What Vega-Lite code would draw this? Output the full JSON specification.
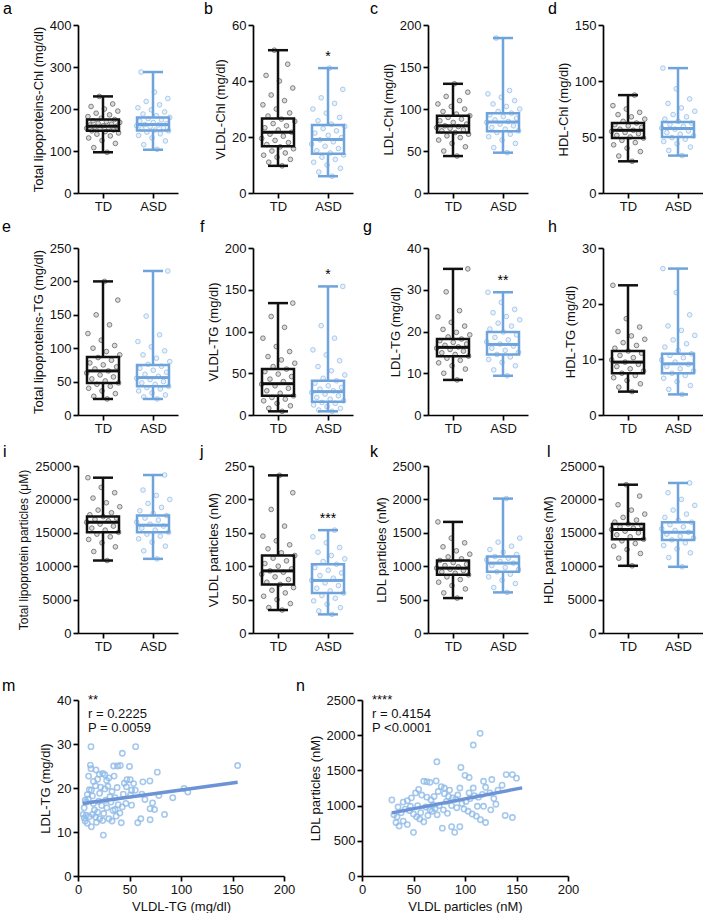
{
"$schema":"https://vega.github.io/schema/vega-lite/v6.json",
"padding":{"left":2,"top":1,"right":0,"bottom":0},
"config":{"view":{"stroke":null},"font":"Liberation Sans",
"axis":{"domainColor":"#000","domainWidth":1.7,"tickColor":"#000","tickWidth":1.7,"tickSize":5,"labelFontSize":13,"labelColor":"#111","titleFontSize":13,"titleFontWeight":"normal","titleColor":"#111","grid":false,"labelPadding":2,"titlePadding":4,"labelFlush":false,"labelOverlap":false}},
"datasets":{
"box":[
{"p":"a","g":"TD","lo":97,"q1":148,"md":159,"q3":175,"hi":230,"s":""},
{"p":"a","g":"ASD","lo":103,"q1":149,"md":163,"q3":180,"hi":288,"s":""},
{"p":"b","g":"TD","lo":9.7,"q1":16.7,"md":21.7,"q3":26.6,"hi":51,"s":""},
{"p":"b","g":"ASD","lo":6,"q1":14,"md":19.1,"q3":24.3,"hi":44.6,"s":"*"},
{"p":"c","g":"TD","lo":44,"q1":72,"md":80,"q3":92,"hi":130,"s":""},
{"p":"c","g":"ASD","lo":48,"q1":73.5,"md":84.5,"q3":95,"hi":184.5,"s":""},
{"p":"d","g":"TD","lo":28.3,"q1":49.2,"md":56,"q3":62.6,"hi":87.4,"s":""},
{"p":"d","g":"ASD","lo":33.4,"q1":50,"md":57.6,"q3":63.5,"hi":111.5,"s":""},
{"p":"e","g":"TD","lo":24,"q1":48,"md":66,"q3":86.8,"hi":200,"s":""},
{"p":"e","g":"ASD","lo":24,"q1":43,"md":56,"q3":74.8,"hi":215.6,"s":""},
{"p":"f","g":"TD","lo":4.4,"q1":23,"md":37.5,"q3":55,"hi":134,"s":""},
{"p":"f","g":"ASD","lo":4.4,"q1":16,"md":28,"q3":41,"hi":154,"s":"*"},
{"p":"g","g":"TD","lo":8.4,"q1":14.1,"md":16.2,"q3":18.2,"hi":35,"s":""},
{"p":"g","g":"ASD","lo":9.4,"q1":14.5,"md":16.9,"q3":19.9,"hi":29.4,"s":"**"},
{"p":"h","g":"TD","lo":4.2,"q1":7.5,"md":9.5,"q3":11.5,"hi":23.3,"s":""},
{"p":"h","g":"ASD","lo":3.7,"q1":7.5,"md":9.2,"q3":11,"hi":26.3,"s":""},
{"p":"i","g":"TD","lo":10850,"q1":15080,"md":16580,"q3":17430,"hi":23250,"s":""},
{"p":"i","g":"ASD","lo":11100,"q1":15080,"md":16140,"q3":17580,"hi":23650,"s":""},
{"p":"j","g":"TD","lo":34.4,"q1":72.7,"md":93,"q3":116,"hi":236,"s":""},
{"p":"j","g":"ASD","lo":27.9,"q1":59.8,"md":78.7,"q3":103,"hi":154,"s":"***"},
{"p":"k","g":"TD","lo":523,"q1":871,"md":971,"q3":1086,"hi":1663,"s":""},
{"p":"k","g":"ASD","lo":608,"q1":916,"md":1046,"q3":1145,"hi":2012,"s":""},
{"p":"l","g":"TD","lo":10060,"q1":14040,"md":15490,"q3":16330,"hi":22200,"s":""},
{"p":"l","g":"ASD","lo":9910,"q1":13940,"md":15080,"q3":16580,"hi":22460,"s":""}
],
"pts":[
{"p":"a","g":"TD","v":97},{"p":"a","g":"TD","v":108},{"p":"a","g":"TD","v":118},{"p":"a","g":"TD","v":125},{"p":"a","g":"TD","v":131},{"p":"a","g":"TD","v":136},{"p":"a","g":"TD","v":140},{"p":"a","g":"TD","v":143},{"p":"a","g":"TD","v":146},{"p":"a","g":"TD","v":148},{"p":"a","g":"TD","v":150},{"p":"a","g":"TD","v":152},{"p":"a","g":"TD","v":154},{"p":"a","g":"TD","v":156},{"p":"a","g":"TD","v":157},{"p":"a","g":"TD","v":159},{"p":"a","g":"TD","v":160},{"p":"a","g":"TD","v":162},{"p":"a","g":"TD","v":164},{"p":"a","g":"TD","v":166},{"p":"a","g":"TD","v":168},{"p":"a","g":"TD","v":170},{"p":"a","g":"TD","v":172},{"p":"a","g":"TD","v":175},{"p":"a","g":"TD","v":178},{"p":"a","g":"TD","v":182},{"p":"a","g":"TD","v":186},{"p":"a","g":"TD","v":190},{"p":"a","g":"TD","v":195},{"p":"a","g":"TD","v":200},{"p":"a","g":"TD","v":206},{"p":"a","g":"TD","v":212},{"p":"a","g":"TD","v":230},
{"p":"a","g":"ASD","v":104},{"p":"a","g":"ASD","v":115},{"p":"a","g":"ASD","v":124},{"p":"a","g":"ASD","v":131},{"p":"a","g":"ASD","v":137},{"p":"a","g":"ASD","v":141},{"p":"a","g":"ASD","v":145},{"p":"a","g":"ASD","v":148},{"p":"a","g":"ASD","v":150},{"p":"a","g":"ASD","v":153},{"p":"a","g":"ASD","v":155},{"p":"a","g":"ASD","v":158},{"p":"a","g":"ASD","v":160},{"p":"a","g":"ASD","v":162},{"p":"a","g":"ASD","v":163},{"p":"a","g":"ASD","v":165},{"p":"a","g":"ASD","v":168},{"p":"a","g":"ASD","v":171},{"p":"a","g":"ASD","v":174},{"p":"a","g":"ASD","v":177},{"p":"a","g":"ASD","v":180},{"p":"a","g":"ASD","v":184},{"p":"a","g":"ASD","v":188},{"p":"a","g":"ASD","v":193},{"p":"a","g":"ASD","v":198},{"p":"a","g":"ASD","v":203},{"p":"a","g":"ASD","v":210},{"p":"a","g":"ASD","v":218},{"p":"a","g":"ASD","v":225},{"p":"a","g":"ASD","v":240},{"p":"a","g":"ASD","v":288},
{"p":"b","g":"TD","v":9.7},{"p":"b","g":"TD","v":11},{"p":"b","g":"TD","v":12},{"p":"b","g":"TD","v":12.8},{"p":"b","g":"TD","v":13.5},{"p":"b","g":"TD","v":14.3},{"p":"b","g":"TD","v":15},{"p":"b","g":"TD","v":15.8},{"p":"b","g":"TD","v":16.5},{"p":"b","g":"TD","v":17.3},{"p":"b","g":"TD","v":18},{"p":"b","g":"TD","v":18.8},{"p":"b","g":"TD","v":19.5},{"p":"b","g":"TD","v":20.3},{"p":"b","g":"TD","v":21},{"p":"b","g":"TD","v":21.7},{"p":"b","g":"TD","v":22.5},{"p":"b","g":"TD","v":23.3},{"p":"b","g":"TD","v":24},{"p":"b","g":"TD","v":24.8},{"p":"b","g":"TD","v":25.6},{"p":"b","g":"TD","v":26.4},{"p":"b","g":"TD","v":27.5},{"p":"b","g":"TD","v":28.6},{"p":"b","g":"TD","v":30},{"p":"b","g":"TD","v":31.5},{"p":"b","g":"TD","v":33},{"p":"b","g":"TD","v":35},{"p":"b","g":"TD","v":37.5},{"p":"b","g":"TD","v":40},{"p":"b","g":"TD","v":42},{"p":"b","g":"TD","v":46},{"p":"b","g":"TD","v":51},
{"p":"b","g":"ASD","v":6},{"p":"b","g":"ASD","v":7.5},{"p":"b","g":"ASD","v":8.8},{"p":"b","g":"ASD","v":10},{"p":"b","g":"ASD","v":11},{"p":"b","g":"ASD","v":12},{"p":"b","g":"ASD","v":12.8},{"p":"b","g":"ASD","v":13.6},{"p":"b","g":"ASD","v":14.3},{"p":"b","g":"ASD","v":15.1},{"p":"b","g":"ASD","v":15.9},{"p":"b","g":"ASD","v":16.7},{"p":"b","g":"ASD","v":17.5},{"p":"b","g":"ASD","v":18.3},{"p":"b","g":"ASD","v":19},{"p":"b","g":"ASD","v":19.8},{"p":"b","g":"ASD","v":20.6},{"p":"b","g":"ASD","v":21.4},{"p":"b","g":"ASD","v":22.2},{"p":"b","g":"ASD","v":23},{"p":"b","g":"ASD","v":23.8},{"p":"b","g":"ASD","v":24.6},{"p":"b","g":"ASD","v":25.8},{"p":"b","g":"ASD","v":27},{"p":"b","g":"ASD","v":28.5},{"p":"b","g":"ASD","v":30},{"p":"b","g":"ASD","v":32},{"p":"b","g":"ASD","v":34},{"p":"b","g":"ASD","v":37},{"p":"b","g":"ASD","v":44.6},
{"p":"c","g":"TD","v":44},{"p":"c","g":"TD","v":50},{"p":"c","g":"TD","v":55},{"p":"c","g":"TD","v":59},{"p":"c","g":"TD","v":63},{"p":"c","g":"TD","v":66},{"p":"c","g":"TD","v":68},{"p":"c","g":"TD","v":70},{"p":"c","g":"TD","v":72},{"p":"c","g":"TD","v":74},{"p":"c","g":"TD","v":75},{"p":"c","g":"TD","v":77},{"p":"c","g":"TD","v":78},{"p":"c","g":"TD","v":79},{"p":"c","g":"TD","v":80},{"p":"c","g":"TD","v":82},{"p":"c","g":"TD","v":84},{"p":"c","g":"TD","v":86},{"p":"c","g":"TD","v":88},{"p":"c","g":"TD","v":90},{"p":"c","g":"TD","v":92},{"p":"c","g":"TD","v":94},{"p":"c","g":"TD","v":97},{"p":"c","g":"TD","v":100},{"p":"c","g":"TD","v":103},{"p":"c","g":"TD","v":106},{"p":"c","g":"TD","v":110},{"p":"c","g":"TD","v":115},{"p":"c","g":"TD","v":120},{"p":"c","g":"TD","v":130},
{"p":"c","g":"ASD","v":48},{"p":"c","g":"ASD","v":54},{"p":"c","g":"ASD","v":59},{"p":"c","g":"ASD","v":63},{"p":"c","g":"ASD","v":67},{"p":"c","g":"ASD","v":70},{"p":"c","g":"ASD","v":72},{"p":"c","g":"ASD","v":74},{"p":"c","g":"ASD","v":76},{"p":"c","g":"ASD","v":78},{"p":"c","g":"ASD","v":80},{"p":"c","g":"ASD","v":82},{"p":"c","g":"ASD","v":84},{"p":"c","g":"ASD","v":85},{"p":"c","g":"ASD","v":87},{"p":"c","g":"ASD","v":89},{"p":"c","g":"ASD","v":91},{"p":"c","g":"ASD","v":93},{"p":"c","g":"ASD","v":95},{"p":"c","g":"ASD","v":97},{"p":"c","g":"ASD","v":100},{"p":"c","g":"ASD","v":103},{"p":"c","g":"ASD","v":106},{"p":"c","g":"ASD","v":110},{"p":"c","g":"ASD","v":114},{"p":"c","g":"ASD","v":118},{"p":"c","g":"ASD","v":122},{"p":"c","g":"ASD","v":184.5},
{"p":"d","g":"TD","v":28.3},{"p":"d","g":"TD","v":33},{"p":"d","g":"TD","v":37},{"p":"d","g":"TD","v":40},{"p":"d","g":"TD","v":43},{"p":"d","g":"TD","v":45},{"p":"d","g":"TD","v":47},{"p":"d","g":"TD","v":49},{"p":"d","g":"TD","v":50},{"p":"d","g":"TD","v":51.5},{"p":"d","g":"TD","v":53},{"p":"d","g":"TD","v":54},{"p":"d","g":"TD","v":55},{"p":"d","g":"TD","v":56},{"p":"d","g":"TD","v":57},{"p":"d","g":"TD","v":58.5},{"p":"d","g":"TD","v":60},{"p":"d","g":"TD","v":61},{"p":"d","g":"TD","v":62.5},{"p":"d","g":"TD","v":64},{"p":"d","g":"TD","v":66},{"p":"d","g":"TD","v":68},{"p":"d","g":"TD","v":70},{"p":"d","g":"TD","v":72},{"p":"d","g":"TD","v":75},{"p":"d","g":"TD","v":78},{"p":"d","g":"TD","v":87.4},
{"p":"d","g":"ASD","v":33.4},{"p":"d","g":"ASD","v":38},{"p":"d","g":"ASD","v":41},{"p":"d","g":"ASD","v":44},{"p":"d","g":"ASD","v":46},{"p":"d","g":"ASD","v":48},{"p":"d","g":"ASD","v":49.5},{"p":"d","g":"ASD","v":51},{"p":"d","g":"ASD","v":52.5},{"p":"d","g":"ASD","v":54},{"p":"d","g":"ASD","v":55.5},{"p":"d","g":"ASD","v":57},{"p":"d","g":"ASD","v":58},{"p":"d","g":"ASD","v":59.5},{"p":"d","g":"ASD","v":61},{"p":"d","g":"ASD","v":62.5},{"p":"d","g":"ASD","v":64},{"p":"d","g":"ASD","v":66},{"p":"d","g":"ASD","v":68},{"p":"d","g":"ASD","v":70},{"p":"d","g":"ASD","v":73},{"p":"d","g":"ASD","v":76},{"p":"d","g":"ASD","v":80},{"p":"d","g":"ASD","v":84},{"p":"d","g":"ASD","v":93},{"p":"d","g":"ASD","v":111.5},
{"p":"e","g":"TD","v":24},{"p":"e","g":"TD","v":28},{"p":"e","g":"TD","v":32},{"p":"e","g":"TD","v":36},{"p":"e","g":"TD","v":40},{"p":"e","g":"TD","v":43},{"p":"e","g":"TD","v":46},{"p":"e","g":"TD","v":48},{"p":"e","g":"TD","v":51},{"p":"e","g":"TD","v":54},{"p":"e","g":"TD","v":57},{"p":"e","g":"TD","v":60},{"p":"e","g":"TD","v":63},{"p":"e","g":"TD","v":66},{"p":"e","g":"TD","v":69},{"p":"e","g":"TD","v":72},{"p":"e","g":"TD","v":75},{"p":"e","g":"TD","v":78},{"p":"e","g":"TD","v":82},{"p":"e","g":"TD","v":86},{"p":"e","g":"TD","v":90},{"p":"e","g":"TD","v":95},{"p":"e","g":"TD","v":100},{"p":"e","g":"TD","v":104},{"p":"e","g":"TD","v":112},{"p":"e","g":"TD","v":122},{"p":"e","g":"TD","v":135},{"p":"e","g":"TD","v":150},{"p":"e","g":"TD","v":172},{"p":"e","g":"TD","v":200},
{"p":"e","g":"ASD","v":24},{"p":"e","g":"ASD","v":27},{"p":"e","g":"ASD","v":30},{"p":"e","g":"ASD","v":33},{"p":"e","g":"ASD","v":36},{"p":"e","g":"ASD","v":39},{"p":"e","g":"ASD","v":41},{"p":"e","g":"ASD","v":43},{"p":"e","g":"ASD","v":46},{"p":"e","g":"ASD","v":48},{"p":"e","g":"ASD","v":50},{"p":"e","g":"ASD","v":53},{"p":"e","g":"ASD","v":55},{"p":"e","g":"ASD","v":58},{"p":"e","g":"ASD","v":61},{"p":"e","g":"ASD","v":64},{"p":"e","g":"ASD","v":67},{"p":"e","g":"ASD","v":70},{"p":"e","g":"ASD","v":73},{"p":"e","g":"ASD","v":76},{"p":"e","g":"ASD","v":80},{"p":"e","g":"ASD","v":85},{"p":"e","g":"ASD","v":90},{"p":"e","g":"ASD","v":96},{"p":"e","g":"ASD","v":102},{"p":"e","g":"ASD","v":110},{"p":"e","g":"ASD","v":120},{"p":"e","g":"ASD","v":148},{"p":"e","g":"ASD","v":215.6},
{"p":"f","g":"TD","v":4.4},{"p":"f","g":"TD","v":8},{"p":"f","g":"TD","v":11},{"p":"f","g":"TD","v":14},{"p":"f","g":"TD","v":17},{"p":"f","g":"TD","v":19},{"p":"f","g":"TD","v":21},{"p":"f","g":"TD","v":23},{"p":"f","g":"TD","v":26},{"p":"f","g":"TD","v":29},{"p":"f","g":"TD","v":32},{"p":"f","g":"TD","v":35},{"p":"f","g":"TD","v":37},{"p":"f","g":"TD","v":40},{"p":"f","g":"TD","v":43},{"p":"f","g":"TD","v":46},{"p":"f","g":"TD","v":49},{"p":"f","g":"TD","v":52},{"p":"f","g":"TD","v":55},{"p":"f","g":"TD","v":58},{"p":"f","g":"TD","v":62},{"p":"f","g":"TD","v":66},{"p":"f","g":"TD","v":70},{"p":"f","g":"TD","v":76},{"p":"f","g":"TD","v":82},{"p":"f","g":"TD","v":92},{"p":"f","g":"TD","v":105},{"p":"f","g":"TD","v":118},{"p":"f","g":"TD","v":134},
{"p":"f","g":"ASD","v":4.4},{"p":"f","g":"ASD","v":6},{"p":"f","g":"ASD","v":8},{"p":"f","g":"ASD","v":10},{"p":"f","g":"ASD","v":12},{"p":"f","g":"ASD","v":14},{"p":"f","g":"ASD","v":15},{"p":"f","g":"ASD","v":17},{"p":"f","g":"ASD","v":19},{"p":"f","g":"ASD","v":21},{"p":"f","g":"ASD","v":23},{"p":"f","g":"ASD","v":25},{"p":"f","g":"ASD","v":27},{"p":"f","g":"ASD","v":29},{"p":"f","g":"ASD","v":31},{"p":"f","g":"ASD","v":33},{"p":"f","g":"ASD","v":35},{"p":"f","g":"ASD","v":38},{"p":"f","g":"ASD","v":41},{"p":"f","g":"ASD","v":44},{"p":"f","g":"ASD","v":48},{"p":"f","g":"ASD","v":53},{"p":"f","g":"ASD","v":58},{"p":"f","g":"ASD","v":65},{"p":"f","g":"ASD","v":72},{"p":"f","g":"ASD","v":78},{"p":"f","g":"ASD","v":92},{"p":"f","g":"ASD","v":107},{"p":"f","g":"ASD","v":154},
{"p":"g","g":"TD","v":8.4},{"p":"g","g":"TD","v":10},{"p":"g","g":"TD","v":11},{"p":"g","g":"TD","v":11.8},{"p":"g","g":"TD","v":12.5},{"p":"g","g":"TD","v":13.1},{"p":"g","g":"TD","v":13.6},{"p":"g","g":"TD","v":14.1},{"p":"g","g":"TD","v":14.5},{"p":"g","g":"TD","v":14.9},{"p":"g","g":"TD","v":15.3},{"p":"g","g":"TD","v":15.7},{"p":"g","g":"TD","v":16},{"p":"g","g":"TD","v":16.3},{"p":"g","g":"TD","v":16.7},{"p":"g","g":"TD","v":17},{"p":"g","g":"TD","v":17.4},{"p":"g","g":"TD","v":17.8},{"p":"g","g":"TD","v":18.2},{"p":"g","g":"TD","v":18.7},{"p":"g","g":"TD","v":19.2},{"p":"g","g":"TD","v":19.8},{"p":"g","g":"TD","v":20.5},{"p":"g","g":"TD","v":21.3},{"p":"g","g":"TD","v":22.2},{"p":"g","g":"TD","v":23.5},{"p":"g","g":"TD","v":25},{"p":"g","g":"TD","v":29.5},{"p":"g","g":"TD","v":35},
{"p":"g","g":"ASD","v":9.4},{"p":"g","g":"ASD","v":10.8},{"p":"g","g":"ASD","v":11.8},{"p":"g","g":"ASD","v":12.6},{"p":"g","g":"ASD","v":13.3},{"p":"g","g":"ASD","v":13.9},{"p":"g","g":"ASD","v":14.5},{"p":"g","g":"ASD","v":15},{"p":"g","g":"ASD","v":15.5},{"p":"g","g":"ASD","v":16},{"p":"g","g":"ASD","v":16.5},{"p":"g","g":"ASD","v":17},{"p":"g","g":"ASD","v":17.5},{"p":"g","g":"ASD","v":18},{"p":"g","g":"ASD","v":18.6},{"p":"g","g":"ASD","v":19.2},{"p":"g","g":"ASD","v":19.9},{"p":"g","g":"ASD","v":20.6},{"p":"g","g":"ASD","v":21.3},{"p":"g","g":"ASD","v":22},{"p":"g","g":"ASD","v":22.8},{"p":"g","g":"ASD","v":23.6},{"p":"g","g":"ASD","v":24.5},{"p":"g","g":"ASD","v":25.3},{"p":"g","g":"ASD","v":27},{"p":"g","g":"ASD","v":29.4},
{"p":"h","g":"TD","v":4.2},{"p":"h","g":"TD","v":5},{"p":"h","g":"TD","v":5.6},{"p":"h","g":"TD","v":6.2},{"p":"h","g":"TD","v":6.7},{"p":"h","g":"TD","v":7.1},{"p":"h","g":"TD","v":7.5},{"p":"h","g":"TD","v":7.9},{"p":"h","g":"TD","v":8.3},{"p":"h","g":"TD","v":8.7},{"p":"h","g":"TD","v":9.1},{"p":"h","g":"TD","v":9.5},{"p":"h","g":"TD","v":9.9},{"p":"h","g":"TD","v":10.3},{"p":"h","g":"TD","v":10.7},{"p":"h","g":"TD","v":11.1},{"p":"h","g":"TD","v":11.5},{"p":"h","g":"TD","v":12},{"p":"h","g":"TD","v":12.5},{"p":"h","g":"TD","v":13},{"p":"h","g":"TD","v":13.6},{"p":"h","g":"TD","v":14.2},{"p":"h","g":"TD","v":15},{"p":"h","g":"TD","v":15.8},{"p":"h","g":"TD","v":17.3},{"p":"h","g":"TD","v":23.3},
{"p":"h","g":"ASD","v":3.7},{"p":"h","g":"ASD","v":4.6},{"p":"h","g":"ASD","v":5.3},{"p":"h","g":"ASD","v":6},{"p":"h","g":"ASD","v":6.6},{"p":"h","g":"ASD","v":7.1},{"p":"h","g":"ASD","v":7.5},{"p":"h","g":"ASD","v":7.9},{"p":"h","g":"ASD","v":8.3},{"p":"h","g":"ASD","v":8.7},{"p":"h","g":"ASD","v":9.1},{"p":"h","g":"ASD","v":9.5},{"p":"h","g":"ASD","v":9.9},{"p":"h","g":"ASD","v":10.3},{"p":"h","g":"ASD","v":10.7},{"p":"h","g":"ASD","v":11},{"p":"h","g":"ASD","v":11.6},{"p":"h","g":"ASD","v":12.2},{"p":"h","g":"ASD","v":12.8},{"p":"h","g":"ASD","v":13.5},{"p":"h","g":"ASD","v":14.3},{"p":"h","g":"ASD","v":15.2},{"p":"h","g":"ASD","v":16},{"p":"h","g":"ASD","v":18},{"p":"h","g":"ASD","v":22},{"p":"h","g":"ASD","v":26.3},
{"p":"i","g":"TD","v":10850},{"p":"i","g":"TD","v":12200},{"p":"i","g":"TD","v":12900},{"p":"i","g":"TD","v":13500},{"p":"i","g":"TD","v":14000},{"p":"i","g":"TD","v":14400},{"p":"i","g":"TD","v":14800},{"p":"i","g":"TD","v":15080},{"p":"i","g":"TD","v":15400},{"p":"i","g":"TD","v":15700},{"p":"i","g":"TD","v":16000},{"p":"i","g":"TD","v":16300},{"p":"i","g":"TD","v":16580},{"p":"i","g":"TD","v":16800},{"p":"i","g":"TD","v":17000},{"p":"i","g":"TD","v":17200},{"p":"i","g":"TD","v":17430},{"p":"i","g":"TD","v":17700},{"p":"i","g":"TD","v":18000},{"p":"i","g":"TD","v":18400},{"p":"i","g":"TD","v":18900},{"p":"i","g":"TD","v":19500},{"p":"i","g":"TD","v":20200},{"p":"i","g":"TD","v":21000},{"p":"i","g":"TD","v":21800},{"p":"i","g":"TD","v":23250},
{"p":"i","g":"ASD","v":11100},{"p":"i","g":"ASD","v":12300},{"p":"i","g":"ASD","v":13000},{"p":"i","g":"ASD","v":13600},{"p":"i","g":"ASD","v":14100},{"p":"i","g":"ASD","v":14500},{"p":"i","g":"ASD","v":14800},{"p":"i","g":"ASD","v":15080},{"p":"i","g":"ASD","v":15400},{"p":"i","g":"ASD","v":15700},{"p":"i","g":"ASD","v":16000},{"p":"i","g":"ASD","v":16300},{"p":"i","g":"ASD","v":16600},{"p":"i","g":"ASD","v":16900},{"p":"i","g":"ASD","v":17200},{"p":"i","g":"ASD","v":17580},{"p":"i","g":"ASD","v":17900},{"p":"i","g":"ASD","v":18300},{"p":"i","g":"ASD","v":18800},{"p":"i","g":"ASD","v":19400},{"p":"i","g":"ASD","v":20000},{"p":"i","g":"ASD","v":20600},{"p":"i","g":"ASD","v":21400},{"p":"i","g":"ASD","v":23650},
{"p":"j","g":"TD","v":34.4},{"p":"j","g":"TD","v":38},{"p":"j","g":"TD","v":44},{"p":"j","g":"TD","v":50},{"p":"j","g":"TD","v":55},{"p":"j","g":"TD","v":60},{"p":"j","g":"TD","v":64},{"p":"j","g":"TD","v":68},{"p":"j","g":"TD","v":72.7},{"p":"j","g":"TD","v":76},{"p":"j","g":"TD","v":80},{"p":"j","g":"TD","v":84},{"p":"j","g":"TD","v":88},{"p":"j","g":"TD","v":91},{"p":"j","g":"TD","v":93},{"p":"j","g":"TD","v":96},{"p":"j","g":"TD","v":100},{"p":"j","g":"TD","v":104},{"p":"j","g":"TD","v":108},{"p":"j","g":"TD","v":112},{"p":"j","g":"TD","v":116},{"p":"j","g":"TD","v":120},{"p":"j","g":"TD","v":126},{"p":"j","g":"TD","v":132},{"p":"j","g":"TD","v":138},{"p":"j","g":"TD","v":145},{"p":"j","g":"TD","v":160},{"p":"j","g":"TD","v":185},{"p":"j","g":"TD","v":210},{"p":"j","g":"TD","v":236},
{"p":"j","g":"ASD","v":27.9},{"p":"j","g":"ASD","v":33},{"p":"j","g":"ASD","v":38},{"p":"j","g":"ASD","v":43},{"p":"j","g":"ASD","v":48},{"p":"j","g":"ASD","v":52},{"p":"j","g":"ASD","v":56},{"p":"j","g":"ASD","v":59.8},{"p":"j","g":"ASD","v":63},{"p":"j","g":"ASD","v":67},{"p":"j","g":"ASD","v":71},{"p":"j","g":"ASD","v":75},{"p":"j","g":"ASD","v":78.7},{"p":"j","g":"ASD","v":82},{"p":"j","g":"ASD","v":86},{"p":"j","g":"ASD","v":90},{"p":"j","g":"ASD","v":94},{"p":"j","g":"ASD","v":98},{"p":"j","g":"ASD","v":103},{"p":"j","g":"ASD","v":107},{"p":"j","g":"ASD","v":111},{"p":"j","g":"ASD","v":116},{"p":"j","g":"ASD","v":121},{"p":"j","g":"ASD","v":128},{"p":"j","g":"ASD","v":135},{"p":"j","g":"ASD","v":144},{"p":"j","g":"ASD","v":154},
{"p":"k","g":"TD","v":523},{"p":"k","g":"TD","v":600},{"p":"k","g":"TD","v":660},{"p":"k","g":"TD","v":710},{"p":"k","g":"TD","v":760},{"p":"k","g":"TD","v":800},{"p":"k","g":"TD","v":840},{"p":"k","g":"TD","v":871},{"p":"k","g":"TD","v":895},{"p":"k","g":"TD","v":915},{"p":"k","g":"TD","v":935},{"p":"k","g":"TD","v":955},{"p":"k","g":"TD","v":971},{"p":"k","g":"TD","v":990},{"p":"k","g":"TD","v":1010},{"p":"k","g":"TD","v":1030},{"p":"k","g":"TD","v":1055},{"p":"k","g":"TD","v":1086},{"p":"k","g":"TD","v":1110},{"p":"k","g":"TD","v":1140},{"p":"k","g":"TD","v":1180},{"p":"k","g":"TD","v":1230},{"p":"k","g":"TD","v":1290},{"p":"k","g":"TD","v":1350},{"p":"k","g":"TD","v":1420},{"p":"k","g":"TD","v":1663},
{"p":"k","g":"ASD","v":608},{"p":"k","g":"ASD","v":680},{"p":"k","g":"ASD","v":740},{"p":"k","g":"ASD","v":790},{"p":"k","g":"ASD","v":840},{"p":"k","g":"ASD","v":880},{"p":"k","g":"ASD","v":916},{"p":"k","g":"ASD","v":950},{"p":"k","g":"ASD","v":980},{"p":"k","g":"ASD","v":1010},{"p":"k","g":"ASD","v":1046},{"p":"k","g":"ASD","v":1070},{"p":"k","g":"ASD","v":1095},{"p":"k","g":"ASD","v":1120},{"p":"k","g":"ASD","v":1145},{"p":"k","g":"ASD","v":1175},{"p":"k","g":"ASD","v":1210},{"p":"k","g":"ASD","v":1250},{"p":"k","g":"ASD","v":1300},{"p":"k","g":"ASD","v":1360},{"p":"k","g":"ASD","v":1420},{"p":"k","g":"ASD","v":2012},
{"p":"l","g":"TD","v":10060},{"p":"l","g":"TD","v":11200},{"p":"l","g":"TD","v":11900},{"p":"l","g":"TD","v":12500},{"p":"l","g":"TD","v":13000},{"p":"l","g":"TD","v":13400},{"p":"l","g":"TD","v":13800},{"p":"l","g":"TD","v":14040},{"p":"l","g":"TD","v":14400},{"p":"l","g":"TD","v":14700},{"p":"l","g":"TD","v":15000},{"p":"l","g":"TD","v":15250},{"p":"l","g":"TD","v":15490},{"p":"l","g":"TD","v":15700},{"p":"l","g":"TD","v":15900},{"p":"l","g":"TD","v":16100},{"p":"l","g":"TD","v":16330},{"p":"l","g":"TD","v":16600},{"p":"l","g":"TD","v":16900},{"p":"l","g":"TD","v":17300},{"p":"l","g":"TD","v":17800},{"p":"l","g":"TD","v":18400},{"p":"l","g":"TD","v":19200},{"p":"l","g":"TD","v":20500},{"p":"l","g":"TD","v":22200},
{"p":"l","g":"ASD","v":9910},{"p":"l","g":"ASD","v":11300},{"p":"l","g":"ASD","v":12000},{"p":"l","g":"ASD","v":12600},{"p":"l","g":"ASD","v":13100},{"p":"l","g":"ASD","v":13500},{"p":"l","g":"ASD","v":13940},{"p":"l","g":"ASD","v":14200},{"p":"l","g":"ASD","v":14500},{"p":"l","g":"ASD","v":14800},{"p":"l","g":"ASD","v":15080},{"p":"l","g":"ASD","v":15350},{"p":"l","g":"ASD","v":15600},{"p":"l","g":"ASD","v":15900},{"p":"l","g":"ASD","v":16200},{"p":"l","g":"ASD","v":16580},{"p":"l","g":"ASD","v":16900},{"p":"l","g":"ASD","v":17300},{"p":"l","g":"ASD","v":17800},{"p":"l","g":"ASD","v":18400},{"p":"l","g":"ASD","v":19100},{"p":"l","g":"ASD","v":20000},{"p":"l","g":"ASD","v":21000},{"p":"l","g":"ASD","v":22460}
],
"sm":[
{"x":12.6,"y":29.4},{"x":155,"y":25.1},{"x":56,"y":29.4},{"x":43,"y":27.9},{"x":34.6,"y":25},{"x":38.4,"y":25},{"x":41,"y":25.1},{"x":50,"y":24.9},{"x":12,"y":25.2},{"x":12.6,"y":24.4},{"x":77,"y":23.6},{"x":10.3,"y":22.7},{"x":20.7,"y":23.1},{"x":24,"y":23.3},{"x":17.5,"y":24.1},{"x":27.8,"y":21.7},{"x":35,"y":22.7},{"x":47.5,"y":21.9},{"x":50.7,"y":21.9},{"x":54,"y":21},{"x":69.8,"y":21.6},{"x":103,"y":19.9},{"x":106.6,"y":19.1},{"x":92,"y":17.8},{"x":84,"y":14},{"x":78.5,"y":18.3},{"x":72.4,"y":16.6},{"x":74.3,"y":15.1},{"x":70,"y":15.3},{"x":70,"y":12.8},{"x":61,"y":13},{"x":58,"y":12.1},{"x":52,"y":19.5},{"x":55.6,"y":19.5},{"x":51,"y":18.4},{"x":52,"y":16.1},{"x":46.5,"y":16.5},{"x":43,"y":15.7},{"x":40.7,"y":14.3},{"x":42,"y":12.1},{"x":37,"y":13.6},{"x":30,"y":13},{"x":24.6,"y":9.3},
{"x":5,"y":14},{"x":6,"y":13.2},{"x":7,"y":12.5},{"x":8,"y":13.8},{"x":9,"y":12},{"x":6,"y":15.5},{"x":8,"y":16.8},{"x":10,"y":17.5},{"x":11,"y":19.6},{"x":13,"y":19.5},{"x":14,"y":18.2},{"x":15,"y":16.5},{"x":16,"y":15},{"x":17,"y":13.4},{"x":18,"y":12.2},{"x":19,"y":14.5},{"x":20,"y":17},{"x":21,"y":18.8},{"x":22,"y":20.2},{"x":23,"y":16},{"x":25,"y":14.2},{"x":26,"y":19.8},{"x":27,"y":17.2},{"x":28,"y":15.5},{"x":29,"y":20.4},{"x":31,"y":18},{"x":32,"y":16.8},{"x":33,"y":19.2},{"x":34,"y":14.9},{"x":36,"y":17.8},{"x":38,"y":20.1},{"x":39,"y":16.2},{"x":44,"y":18.6},{"x":45,"y":21.1},{"x":13,"y":11.2},{"x":15,"y":21.5},{"x":11,"y":13.5},{"x":9,"y":18.5},{"x":19,"y":22},{"x":24,"y":12.6},{"x":30,"y":22.3},{"x":36,"y":15.1},{"x":62,"y":18.6},{"x":65,"y":17.4},{"x":47,"y":20.3},{"x":14,"y":14},{"x":17,"y":20.5},{"x":21,"y":13},{"x":7,"y":17.2},{"x":26,"y":23},{"x":33,"y":12.5},{"x":63,"y":21.4}
],
"sn":[
{"x":114.7,"y":2026},{"x":108,"y":1860},{"x":72.7,"y":1622},{"x":96,"y":1542},{"x":100,"y":1430},{"x":104,"y":1400},{"x":140,"y":1440},{"x":146,"y":1440},{"x":150,"y":1390},{"x":118,"y":1345},{"x":126,"y":1370},{"x":136,"y":1290},{"x":60,"y":1345},{"x":63,"y":1340},{"x":66,"y":1330},{"x":72,"y":1350},{"x":77,"y":1270},{"x":80,"y":1250},{"x":85,"y":1220},{"x":95,"y":1250},{"x":108,"y":1250},{"x":120,"y":1260},{"x":132,"y":1220},{"x":124,"y":1180},{"x":117,"y":1160},{"x":113,"y":1120},{"x":109,"y":1140},{"x":105,"y":1100},{"x":101,"y":1060},{"x":97,"y":1030},{"x":91,"y":1090},{"x":88,"y":1110},{"x":84,"y":1130},{"x":80,"y":1170},{"x":74,"y":1200},{"x":70,"y":1130},{"x":67,"y":1080},{"x":63,"y":1120},{"x":58,"y":1150},{"x":55,"y":1230},{"x":52,"y":1180},{"x":48,"y":1110},{"x":44,"y":1070},{"x":40,"y":1050},{"x":35,"y":980},{"x":29,"y":1080},{"x":31,"y":870},{"x":34,"y":840},{"x":38,"y":900},{"x":42,"y":950},{"x":46,"y":930},{"x":50,"y":880},{"x":53,"y":840},{"x":56,"y":810},{"x":60,"y":770},{"x":64,"y":860},{"x":68,"y":920},{"x":71,"y":960},{"x":75,"y":1000},{"x":79,"y":940},{"x":83,"y":890},{"x":87,"y":1000},{"x":92,"y":970},{"x":99,"y":950},{"x":103,"y":920},{"x":107,"y":880},{"x":111,"y":850},{"x":115,"y":800},{"x":120,"y":760},{"x":125,"y":940},{"x":130,"y":1020},{"x":139,"y":860},{"x":146,"y":830},{"x":78,"y":680},{"x":87,"y":700},{"x":95,"y":700},{"x":50,"y":620},{"x":90,"y":620},{"x":40,"y":780},{"x":44,"y":730},{"x":33,"y":760},{"x":36,"y":710},{"x":57,"y":900},{"x":62,"y":980},{"x":69,"y":1010},{"x":73,"y":870},{"x":82,"y":1060},{"x":118,"y":990},{"x":128,"y":1100},{"x":112,"y":990},{"x":93,"y":1150},{"x":104,"y":1180},{"x":66,"y":940},{"x":54,"y":1000},{"x":47,"y":990}
],
"lm":[{"x":4.5,"y":16.5},{"x":155,"y":21.3}],
"ln":[{"x":29,"y":897},{"x":155.5,"y":1252}],
"ann":[{"p":"m","t":["**","r = 0.2225","P = 0.0059"]},{"p":"n","t":["****","r = 0.4154","P <0.0001"]}]
},
"spacing":25,
"vconcat":[
{"spacing":9,"vconcat":[
{"spacing":6,"vconcat":[
{"bounds":"flush","spacing":75,"hconcat":[
{"width":100,"height":168,"layer":[
{"data":{"name":"pts"},"transform":[{"filter":"datum.p=='a'"},{"window":[{"op":"row_number","as":"i"}],"groupby":["g"]},{"calculate":"(datum.g=='TD'?0:1)+((datum.i*0.618034)%1-0.5)*0.7","as":"x"}],"mark":{"type":"point","shape":"circle","size":22,"strokeWidth":1,"fillOpacity":0.3,"strokeOpacity":0.7},"encoding":{"x":{"field":"x","type":"quantitative","scale":{"domain":[-0.5,1.5],"nice":false,"zero":false},"axis":{"values":[0,1],"tickCount":10,"labelExpr":"datum.value==0?'TD':'ASD'","title":null}},"y":{"field":"v","type":"quantitative","scale":{"domain":[0,400],"nice":false},"axis":{"values":[0,100,200,300,400],"tickCount":10,"format":"d","title":"Total lipoproteins-Chl (mg/dl)"}},"stroke":{"condition":{"test":"datum.g=='TD'","value":"#555"},"value":"#8ab8e6"},"fill":{"condition":{"test":"datum.g=='TD'","value":"#888"},"value":"#b5d2f0"}}},
{"data":{"name":"box"},"transform":[{"filter":"datum.p=='a'"},{"calculate":"datum.g=='TD'?0:1","as":"c"},{"calculate":"datum.c-0.32","as":"l"},{"calculate":"datum.c+0.32","as":"r"},{"calculate":"datum.c-0.2","as":"cl"},{"calculate":"datum.c+0.2","as":"cr"}],"encoding":{"color":{"condition":{"test":"datum.g=='TD'","value":"#111"},"value":"#6fa3dc"}},"layer":[
{"mark":{"type":"rule","strokeWidth":2.5},"encoding":{"x":{"field":"c","type":"quantitative"},"y":{"field":"lo","type":"quantitative"},"y2":{"field":"q1"}}},
{"mark":{"type":"rule","strokeWidth":2.5},"encoding":{"x":{"field":"c","type":"quantitative"},"y":{"field":"q3","type":"quantitative"},"y2":{"field":"hi"}}},
{"mark":{"type":"rule","strokeWidth":2.5},"encoding":{"x":{"field":"cl","type":"quantitative"},"x2":{"field":"cr"},"y":{"field":"lo","type":"quantitative"}}},
{"mark":{"type":"rule","strokeWidth":2.5},"encoding":{"x":{"field":"cl","type":"quantitative"},"x2":{"field":"cr"},"y":{"field":"hi","type":"quantitative"}}},
{"mark":{"type":"rect","filled":false,"strokeWidth":2.5},"encoding":{"x":{"field":"l","type":"quantitative"},"x2":{"field":"r"},"y":{"field":"q1","type":"quantitative"},"y2":{"field":"q3"}}},
{"mark":{"type":"rule","strokeWidth":3},"encoding":{"x":{"field":"l","type":"quantitative"},"x2":{"field":"r"},"y":{"field":"md","type":"quantitative"}}},
{"mark":{"type":"text","fontSize":14,"dy":-7,"baseline":"alphabetic"},"encoding":{"x":{"field":"c","type":"quantitative"},"y":{"field":"hi","type":"quantitative"},"text":{"field":"s"},"color":{"value":"#000"}}},
{"transform":[{"filter":"datum.g=='TD'"}],"mark":{"type":"text","text":"a","align":"left","baseline":"alphabetic","fontSize":16,"dx":-75,"dy":-11},"encoding":{"x":{"datum":-0.5,"type":"quantitative"},"y":{"datum":400,"type":"quantitative"},"color":{"value":"#000"}}}
]}]},
{"width":100,"height":168,"layer":[
{"data":{"name":"pts"},"transform":[{"filter":"datum.p=='b'"},{"window":[{"op":"row_number","as":"i"}],"groupby":["g"]},{"calculate":"(datum.g=='TD'?0:1)+((datum.i*0.618034)%1-0.5)*0.7","as":"x"}],"mark":{"type":"point","shape":"circle","size":22,"strokeWidth":1,"fillOpacity":0.3,"strokeOpacity":0.7},"encoding":{"x":{"field":"x","type":"quantitative","scale":{"domain":[-0.5,1.5],"nice":false,"zero":false},"axis":{"values":[0,1],"tickCount":10,"labelExpr":"datum.value==0?'TD':'ASD'","title":null}},"y":{"field":"v","type":"quantitative","scale":{"domain":[0,60],"nice":false},"axis":{"values":[0,20,40,60],"tickCount":10,"format":"d","title":"VLDL-Chl (mg/dl)"}},"stroke":{"condition":{"test":"datum.g=='TD'","value":"#555"},"value":"#8ab8e6"},"fill":{"condition":{"test":"datum.g=='TD'","value":"#888"},"value":"#b5d2f0"}}},
{"data":{"name":"box"},"transform":[{"filter":"datum.p=='b'"},{"calculate":"datum.g=='TD'?0:1","as":"c"},{"calculate":"datum.c-0.32","as":"l"},{"calculate":"datum.c+0.32","as":"r"},{"calculate":"datum.c-0.2","as":"cl"},{"calculate":"datum.c+0.2","as":"cr"}],"encoding":{"color":{"condition":{"test":"datum.g=='TD'","value":"#111"},"value":"#6fa3dc"}},"layer":[
{"mark":{"type":"rule","strokeWidth":2.5},"encoding":{"x":{"field":"c","type":"quantitative"},"y":{"field":"lo","type":"quantitative"},"y2":{"field":"q1"}}},
{"mark":{"type":"rule","strokeWidth":2.5},"encoding":{"x":{"field":"c","type":"quantitative"},"y":{"field":"q3","type":"quantitative"},"y2":{"field":"hi"}}},
{"mark":{"type":"rule","strokeWidth":2.5},"encoding":{"x":{"field":"cl","type":"quantitative"},"x2":{"field":"cr"},"y":{"field":"lo","type":"quantitative"}}},
{"mark":{"type":"rule","strokeWidth":2.5},"encoding":{"x":{"field":"cl","type":"quantitative"},"x2":{"field":"cr"},"y":{"field":"hi","type":"quantitative"}}},
{"mark":{"type":"rect","filled":false,"strokeWidth":2.5},"encoding":{"x":{"field":"l","type":"quantitative"},"x2":{"field":"r"},"y":{"field":"q1","type":"quantitative"},"y2":{"field":"q3"}}},
{"mark":{"type":"rule","strokeWidth":3},"encoding":{"x":{"field":"l","type":"quantitative"},"x2":{"field":"r"},"y":{"field":"md","type":"quantitative"}}},
{"mark":{"type":"text","fontSize":14,"dy":-7,"baseline":"alphabetic"},"encoding":{"x":{"field":"c","type":"quantitative"},"y":{"field":"hi","type":"quantitative"},"text":{"field":"s"},"color":{"value":"#000"}}},
{"transform":[{"filter":"datum.g=='TD'"}],"mark":{"type":"text","text":"b","align":"left","baseline":"alphabetic","fontSize":16,"dx":-49,"dy":-11},"encoding":{"x":{"datum":-0.5,"type":"quantitative"},"y":{"datum":60,"type":"quantitative"},"color":{"value":"#000"}}}
]}]},
{"width":100,"height":168,"layer":[
{"data":{"name":"pts"},"transform":[{"filter":"datum.p=='c'"},{"window":[{"op":"row_number","as":"i"}],"groupby":["g"]},{"calculate":"(datum.g=='TD'?0:1)+((datum.i*0.618034)%1-0.5)*0.7","as":"x"}],"mark":{"type":"point","shape":"circle","size":22,"strokeWidth":1,"fillOpacity":0.3,"strokeOpacity":0.7},"encoding":{"x":{"field":"x","type":"quantitative","scale":{"domain":[-0.5,1.5],"nice":false,"zero":false},"axis":{"values":[0,1],"tickCount":10,"labelExpr":"datum.value==0?'TD':'ASD'","title":null}},"y":{"field":"v","type":"quantitative","scale":{"domain":[0,200],"nice":false},"axis":{"values":[0,50,100,150,200],"tickCount":10,"format":"d","title":"LDL-Chl (mg/dl)"}},"stroke":{"condition":{"test":"datum.g=='TD'","value":"#555"},"value":"#8ab8e6"},"fill":{"condition":{"test":"datum.g=='TD'","value":"#888"},"value":"#b5d2f0"}}},
{"data":{"name":"box"},"transform":[{"filter":"datum.p=='c'"},{"calculate":"datum.g=='TD'?0:1","as":"c"},{"calculate":"datum.c-0.32","as":"l"},{"calculate":"datum.c+0.32","as":"r"},{"calculate":"datum.c-0.2","as":"cl"},{"calculate":"datum.c+0.2","as":"cr"}],"encoding":{"color":{"condition":{"test":"datum.g=='TD'","value":"#111"},"value":"#6fa3dc"}},"layer":[
{"mark":{"type":"rule","strokeWidth":2.5},"encoding":{"x":{"field":"c","type":"quantitative"},"y":{"field":"lo","type":"quantitative"},"y2":{"field":"q1"}}},
{"mark":{"type":"rule","strokeWidth":2.5},"encoding":{"x":{"field":"c","type":"quantitative"},"y":{"field":"q3","type":"quantitative"},"y2":{"field":"hi"}}},
{"mark":{"type":"rule","strokeWidth":2.5},"encoding":{"x":{"field":"cl","type":"quantitative"},"x2":{"field":"cr"},"y":{"field":"lo","type":"quantitative"}}},
{"mark":{"type":"rule","strokeWidth":2.5},"encoding":{"x":{"field":"cl","type":"quantitative"},"x2":{"field":"cr"},"y":{"field":"hi","type":"quantitative"}}},
{"mark":{"type":"rect","filled":false,"strokeWidth":2.5},"encoding":{"x":{"field":"l","type":"quantitative"},"x2":{"field":"r"},"y":{"field":"q1","type":"quantitative"},"y2":{"field":"q3"}}},
{"mark":{"type":"rule","strokeWidth":3},"encoding":{"x":{"field":"l","type":"quantitative"},"x2":{"field":"r"},"y":{"field":"md","type":"quantitative"}}},
{"mark":{"type":"text","fontSize":14,"dy":-7,"baseline":"alphabetic"},"encoding":{"x":{"field":"c","type":"quantitative"},"y":{"field":"hi","type":"quantitative"},"text":{"field":"s"},"color":{"value":"#000"}}},
{"transform":[{"filter":"datum.g=='TD'"}],"mark":{"type":"text","text":"c","align":"left","baseline":"alphabetic","fontSize":16,"dx":-58,"dy":-11},"encoding":{"x":{"datum":-0.5,"type":"quantitative"},"y":{"datum":200,"type":"quantitative"},"color":{"value":"#000"}}}
]}]},
{"width":100,"height":168,"layer":[
{"data":{"name":"pts"},"transform":[{"filter":"datum.p=='d'"},{"window":[{"op":"row_number","as":"i"}],"groupby":["g"]},{"calculate":"(datum.g=='TD'?0:1)+((datum.i*0.618034)%1-0.5)*0.7","as":"x"}],"mark":{"type":"point","shape":"circle","size":22,"strokeWidth":1,"fillOpacity":0.3,"strokeOpacity":0.7},"encoding":{"x":{"field":"x","type":"quantitative","scale":{"domain":[-0.5,1.5],"nice":false,"zero":false},"axis":{"values":[0,1],"tickCount":10,"labelExpr":"datum.value==0?'TD':'ASD'","title":null}},"y":{"field":"v","type":"quantitative","scale":{"domain":[0,150],"nice":false},"axis":{"values":[0,50,100,150],"tickCount":10,"format":"d","title":"HDL-Chl (mg/dl)"}},"stroke":{"condition":{"test":"datum.g=='TD'","value":"#555"},"value":"#8ab8e6"},"fill":{"condition":{"test":"datum.g=='TD'","value":"#888"},"value":"#b5d2f0"}}},
{"data":{"name":"box"},"transform":[{"filter":"datum.p=='d'"},{"calculate":"datum.g=='TD'?0:1","as":"c"},{"calculate":"datum.c-0.32","as":"l"},{"calculate":"datum.c+0.32","as":"r"},{"calculate":"datum.c-0.2","as":"cl"},{"calculate":"datum.c+0.2","as":"cr"}],"encoding":{"color":{"condition":{"test":"datum.g=='TD'","value":"#111"},"value":"#6fa3dc"}},"layer":[
{"mark":{"type":"rule","strokeWidth":2.5},"encoding":{"x":{"field":"c","type":"quantitative"},"y":{"field":"lo","type":"quantitative"},"y2":{"field":"q1"}}},
{"mark":{"type":"rule","strokeWidth":2.5},"encoding":{"x":{"field":"c","type":"quantitative"},"y":{"field":"q3","type":"quantitative"},"y2":{"field":"hi"}}},
{"mark":{"type":"rule","strokeWidth":2.5},"encoding":{"x":{"field":"cl","type":"quantitative"},"x2":{"field":"cr"},"y":{"field":"lo","type":"quantitative"}}},
{"mark":{"type":"rule","strokeWidth":2.5},"encoding":{"x":{"field":"cl","type":"quantitative"},"x2":{"field":"cr"},"y":{"field":"hi","type":"quantitative"}}},
{"mark":{"type":"rect","filled":false,"strokeWidth":2.5},"encoding":{"x":{"field":"l","type":"quantitative"},"x2":{"field":"r"},"y":{"field":"q1","type":"quantitative"},"y2":{"field":"q3"}}},
{"mark":{"type":"rule","strokeWidth":3},"encoding":{"x":{"field":"l","type":"quantitative"},"x2":{"field":"r"},"y":{"field":"md","type":"quantitative"}}},
{"mark":{"type":"text","fontSize":14,"dy":-7,"baseline":"alphabetic"},"encoding":{"x":{"field":"c","type":"quantitative"},"y":{"field":"hi","type":"quantitative"},"text":{"field":"s"},"color":{"value":"#000"}}},
{"transform":[{"filter":"datum.g=='TD'"}],"mark":{"type":"text","text":"d","align":"left","baseline":"alphabetic","fontSize":16,"dx":-55,"dy":-11},"encoding":{"x":{"datum":-0.5,"type":"quantitative"},"y":{"datum":150,"type":"quantitative"},"color":{"value":"#000"}}}
]}]}
]},
{"bounds":"flush","spacing":75,"hconcat":[
{"width":100,"height":167,"layer":[
{"data":{"name":"pts"},"transform":[{"filter":"datum.p=='e'"},{"window":[{"op":"row_number","as":"i"}],"groupby":["g"]},{"calculate":"(datum.g=='TD'?0:1)+((datum.i*0.618034)%1-0.5)*0.7","as":"x"}],"mark":{"type":"point","shape":"circle","size":22,"strokeWidth":1,"fillOpacity":0.3,"strokeOpacity":0.7},"encoding":{"x":{"field":"x","type":"quantitative","scale":{"domain":[-0.5,1.5],"nice":false,"zero":false},"axis":{"values":[0,1],"tickCount":10,"labelExpr":"datum.value==0?'TD':'ASD'","title":null}},"y":{"field":"v","type":"quantitative","scale":{"domain":[0,250],"nice":false},"axis":{"values":[0,50,100,150,200,250],"tickCount":10,"format":"d","title":"Total lipoproteins-TG (mg/dl)"}},"stroke":{"condition":{"test":"datum.g=='TD'","value":"#555"},"value":"#8ab8e6"},"fill":{"condition":{"test":"datum.g=='TD'","value":"#888"},"value":"#b5d2f0"}}},
{"data":{"name":"box"},"transform":[{"filter":"datum.p=='e'"},{"calculate":"datum.g=='TD'?0:1","as":"c"},{"calculate":"datum.c-0.32","as":"l"},{"calculate":"datum.c+0.32","as":"r"},{"calculate":"datum.c-0.2","as":"cl"},{"calculate":"datum.c+0.2","as":"cr"}],"encoding":{"color":{"condition":{"test":"datum.g=='TD'","value":"#111"},"value":"#6fa3dc"}},"layer":[
{"mark":{"type":"rule","strokeWidth":2.5},"encoding":{"x":{"field":"c","type":"quantitative"},"y":{"field":"lo","type":"quantitative"},"y2":{"field":"q1"}}},
{"mark":{"type":"rule","strokeWidth":2.5},"encoding":{"x":{"field":"c","type":"quantitative"},"y":{"field":"q3","type":"quantitative"},"y2":{"field":"hi"}}},
{"mark":{"type":"rule","strokeWidth":2.5},"encoding":{"x":{"field":"cl","type":"quantitative"},"x2":{"field":"cr"},"y":{"field":"lo","type":"quantitative"}}},
{"mark":{"type":"rule","strokeWidth":2.5},"encoding":{"x":{"field":"cl","type":"quantitative"},"x2":{"field":"cr"},"y":{"field":"hi","type":"quantitative"}}},
{"mark":{"type":"rect","filled":false,"strokeWidth":2.5},"encoding":{"x":{"field":"l","type":"quantitative"},"x2":{"field":"r"},"y":{"field":"q1","type":"quantitative"},"y2":{"field":"q3"}}},
{"mark":{"type":"rule","strokeWidth":3},"encoding":{"x":{"field":"l","type":"quantitative"},"x2":{"field":"r"},"y":{"field":"md","type":"quantitative"}}},
{"mark":{"type":"text","fontSize":14,"dy":-7,"baseline":"alphabetic"},"encoding":{"x":{"field":"c","type":"quantitative"},"y":{"field":"hi","type":"quantitative"},"text":{"field":"s"},"color":{"value":"#000"}}},
{"transform":[{"filter":"datum.g=='TD'"}],"mark":{"type":"text","text":"e","align":"left","baseline":"alphabetic","fontSize":16,"dx":-76,"dy":-16},"encoding":{"x":{"datum":-0.5,"type":"quantitative"},"y":{"datum":250,"type":"quantitative"},"color":{"value":"#000"}}}
]}]},
{"width":100,"height":167,"layer":[
{"data":{"name":"pts"},"transform":[{"filter":"datum.p=='f'"},{"window":[{"op":"row_number","as":"i"}],"groupby":["g"]},{"calculate":"(datum.g=='TD'?0:1)+((datum.i*0.618034)%1-0.5)*0.7","as":"x"}],"mark":{"type":"point","shape":"circle","size":22,"strokeWidth":1,"fillOpacity":0.3,"strokeOpacity":0.7},"encoding":{"x":{"field":"x","type":"quantitative","scale":{"domain":[-0.5,1.5],"nice":false,"zero":false},"axis":{"values":[0,1],"tickCount":10,"labelExpr":"datum.value==0?'TD':'ASD'","title":null}},"y":{"field":"v","type":"quantitative","scale":{"domain":[0,200],"nice":false},"axis":{"values":[0,50,100,150,200],"tickCount":10,"format":"d","title":"VLDL-TG (mg/dl)"}},"stroke":{"condition":{"test":"datum.g=='TD'","value":"#555"},"value":"#8ab8e6"},"fill":{"condition":{"test":"datum.g=='TD'","value":"#888"},"value":"#b5d2f0"}}},
{"data":{"name":"box"},"transform":[{"filter":"datum.p=='f'"},{"calculate":"datum.g=='TD'?0:1","as":"c"},{"calculate":"datum.c-0.32","as":"l"},{"calculate":"datum.c+0.32","as":"r"},{"calculate":"datum.c-0.2","as":"cl"},{"calculate":"datum.c+0.2","as":"cr"}],"encoding":{"color":{"condition":{"test":"datum.g=='TD'","value":"#111"},"value":"#6fa3dc"}},"layer":[
{"mark":{"type":"rule","strokeWidth":2.5},"encoding":{"x":{"field":"c","type":"quantitative"},"y":{"field":"lo","type":"quantitative"},"y2":{"field":"q1"}}},
{"mark":{"type":"rule","strokeWidth":2.5},"encoding":{"x":{"field":"c","type":"quantitative"},"y":{"field":"q3","type":"quantitative"},"y2":{"field":"hi"}}},
{"mark":{"type":"rule","strokeWidth":2.5},"encoding":{"x":{"field":"cl","type":"quantitative"},"x2":{"field":"cr"},"y":{"field":"lo","type":"quantitative"}}},
{"mark":{"type":"rule","strokeWidth":2.5},"encoding":{"x":{"field":"cl","type":"quantitative"},"x2":{"field":"cr"},"y":{"field":"hi","type":"quantitative"}}},
{"mark":{"type":"rect","filled":false,"strokeWidth":2.5},"encoding":{"x":{"field":"l","type":"quantitative"},"x2":{"field":"r"},"y":{"field":"q1","type":"quantitative"},"y2":{"field":"q3"}}},
{"mark":{"type":"rule","strokeWidth":3},"encoding":{"x":{"field":"l","type":"quantitative"},"x2":{"field":"r"},"y":{"field":"md","type":"quantitative"}}},
{"mark":{"type":"text","fontSize":14,"dy":-7,"baseline":"alphabetic"},"encoding":{"x":{"field":"c","type":"quantitative"},"y":{"field":"hi","type":"quantitative"},"text":{"field":"s"},"color":{"value":"#000"}}},
{"transform":[{"filter":"datum.g=='TD'"}],"mark":{"type":"text","text":"f","align":"left","baseline":"alphabetic","fontSize":16,"dx":-53,"dy":-16},"encoding":{"x":{"datum":-0.5,"type":"quantitative"},"y":{"datum":200,"type":"quantitative"},"color":{"value":"#000"}}}
]}]},
{"width":100,"height":167,"layer":[
{"data":{"name":"pts"},"transform":[{"filter":"datum.p=='g'"},{"window":[{"op":"row_number","as":"i"}],"groupby":["g"]},{"calculate":"(datum.g=='TD'?0:1)+((datum.i*0.618034)%1-0.5)*0.7","as":"x"}],"mark":{"type":"point","shape":"circle","size":22,"strokeWidth":1,"fillOpacity":0.3,"strokeOpacity":0.7},"encoding":{"x":{"field":"x","type":"quantitative","scale":{"domain":[-0.5,1.5],"nice":false,"zero":false},"axis":{"values":[0,1],"tickCount":10,"labelExpr":"datum.value==0?'TD':'ASD'","title":null}},"y":{"field":"v","type":"quantitative","scale":{"domain":[0,40],"nice":false},"axis":{"values":[0,10,20,30,40],"tickCount":10,"format":"d","title":"LDL-TG (mg/dl)"}},"stroke":{"condition":{"test":"datum.g=='TD'","value":"#555"},"value":"#8ab8e6"},"fill":{"condition":{"test":"datum.g=='TD'","value":"#888"},"value":"#b5d2f0"}}},
{"data":{"name":"box"},"transform":[{"filter":"datum.p=='g'"},{"calculate":"datum.g=='TD'?0:1","as":"c"},{"calculate":"datum.c-0.32","as":"l"},{"calculate":"datum.c+0.32","as":"r"},{"calculate":"datum.c-0.2","as":"cl"},{"calculate":"datum.c+0.2","as":"cr"}],"encoding":{"color":{"condition":{"test":"datum.g=='TD'","value":"#111"},"value":"#6fa3dc"}},"layer":[
{"mark":{"type":"rule","strokeWidth":2.5},"encoding":{"x":{"field":"c","type":"quantitative"},"y":{"field":"lo","type":"quantitative"},"y2":{"field":"q1"}}},
{"mark":{"type":"rule","strokeWidth":2.5},"encoding":{"x":{"field":"c","type":"quantitative"},"y":{"field":"q3","type":"quantitative"},"y2":{"field":"hi"}}},
{"mark":{"type":"rule","strokeWidth":2.5},"encoding":{"x":{"field":"cl","type":"quantitative"},"x2":{"field":"cr"},"y":{"field":"lo","type":"quantitative"}}},
{"mark":{"type":"rule","strokeWidth":2.5},"encoding":{"x":{"field":"cl","type":"quantitative"},"x2":{"field":"cr"},"y":{"field":"hi","type":"quantitative"}}},
{"mark":{"type":"rect","filled":false,"strokeWidth":2.5},"encoding":{"x":{"field":"l","type":"quantitative"},"x2":{"field":"r"},"y":{"field":"q1","type":"quantitative"},"y2":{"field":"q3"}}},
{"mark":{"type":"rule","strokeWidth":3},"encoding":{"x":{"field":"l","type":"quantitative"},"x2":{"field":"r"},"y":{"field":"md","type":"quantitative"}}},
{"mark":{"type":"text","fontSize":14,"dy":-7,"baseline":"alphabetic"},"encoding":{"x":{"field":"c","type":"quantitative"},"y":{"field":"hi","type":"quantitative"},"text":{"field":"s"},"color":{"value":"#000"}}},
{"transform":[{"filter":"datum.g=='TD'"}],"mark":{"type":"text","text":"g","align":"left","baseline":"alphabetic","fontSize":16,"dx":-65,"dy":-16},"encoding":{"x":{"datum":-0.5,"type":"quantitative"},"y":{"datum":40,"type":"quantitative"},"color":{"value":"#000"}}}
]}]},
{"width":100,"height":167,"layer":[
{"data":{"name":"pts"},"transform":[{"filter":"datum.p=='h'"},{"window":[{"op":"row_number","as":"i"}],"groupby":["g"]},{"calculate":"(datum.g=='TD'?0:1)+((datum.i*0.618034)%1-0.5)*0.7","as":"x"}],"mark":{"type":"point","shape":"circle","size":22,"strokeWidth":1,"fillOpacity":0.3,"strokeOpacity":0.7},"encoding":{"x":{"field":"x","type":"quantitative","scale":{"domain":[-0.5,1.5],"nice":false,"zero":false},"axis":{"values":[0,1],"tickCount":10,"labelExpr":"datum.value==0?'TD':'ASD'","title":null}},"y":{"field":"v","type":"quantitative","scale":{"domain":[0,30],"nice":false},"axis":{"values":[0,10,20,30],"tickCount":10,"format":"d","title":"HDL-TG (mg/dl)"}},"stroke":{"condition":{"test":"datum.g=='TD'","value":"#555"},"value":"#8ab8e6"},"fill":{"condition":{"test":"datum.g=='TD'","value":"#888"},"value":"#b5d2f0"}}},
{"data":{"name":"box"},"transform":[{"filter":"datum.p=='h'"},{"calculate":"datum.g=='TD'?0:1","as":"c"},{"calculate":"datum.c-0.32","as":"l"},{"calculate":"datum.c+0.32","as":"r"},{"calculate":"datum.c-0.2","as":"cl"},{"calculate":"datum.c+0.2","as":"cr"}],"encoding":{"color":{"condition":{"test":"datum.g=='TD'","value":"#111"},"value":"#6fa3dc"}},"layer":[
{"mark":{"type":"rule","strokeWidth":2.5},"encoding":{"x":{"field":"c","type":"quantitative"},"y":{"field":"lo","type":"quantitative"},"y2":{"field":"q1"}}},
{"mark":{"type":"rule","strokeWidth":2.5},"encoding":{"x":{"field":"c","type":"quantitative"},"y":{"field":"q3","type":"quantitative"},"y2":{"field":"hi"}}},
{"mark":{"type":"rule","strokeWidth":2.5},"encoding":{"x":{"field":"cl","type":"quantitative"},"x2":{"field":"cr"},"y":{"field":"lo","type":"quantitative"}}},
{"mark":{"type":"rule","strokeWidth":2.5},"encoding":{"x":{"field":"cl","type":"quantitative"},"x2":{"field":"cr"},"y":{"field":"hi","type":"quantitative"}}},
{"mark":{"type":"rect","filled":false,"strokeWidth":2.5},"encoding":{"x":{"field":"l","type":"quantitative"},"x2":{"field":"r"},"y":{"field":"q1","type":"quantitative"},"y2":{"field":"q3"}}},
{"mark":{"type":"rule","strokeWidth":3},"encoding":{"x":{"field":"l","type":"quantitative"},"x2":{"field":"r"},"y":{"field":"md","type":"quantitative"}}},
{"mark":{"type":"text","fontSize":14,"dy":-7,"baseline":"alphabetic"},"encoding":{"x":{"field":"c","type":"quantitative"},"y":{"field":"hi","type":"quantitative"},"text":{"field":"s"},"color":{"value":"#000"}}},
{"transform":[{"filter":"datum.g=='TD'"}],"mark":{"type":"text","text":"h","align":"left","baseline":"alphabetic","fontSize":16,"dx":-55,"dy":-16},"encoding":{"x":{"datum":-0.5,"type":"quantitative"},"y":{"datum":30,"type":"quantitative"},"color":{"value":"#000"}}}
]}]}
]}
]},
{"bounds":"flush","spacing":75,"hconcat":[
{"width":100,"height":167,"layer":[
{"data":{"name":"pts"},"transform":[{"filter":"datum.p=='i'"},{"window":[{"op":"row_number","as":"i"}],"groupby":["g"]},{"calculate":"(datum.g=='TD'?0:1)+((datum.i*0.618034)%1-0.5)*0.7","as":"x"}],"mark":{"type":"point","shape":"circle","size":22,"strokeWidth":1,"fillOpacity":0.3,"strokeOpacity":0.7},"encoding":{"x":{"field":"x","type":"quantitative","scale":{"domain":[-0.5,1.5],"nice":false,"zero":false},"axis":{"values":[0,1],"tickCount":10,"labelExpr":"datum.value==0?'TD':'ASD'","title":null}},"y":{"field":"v","type":"quantitative","scale":{"domain":[0,25000],"nice":false},"axis":{"values":[0,5000,10000,15000,20000,25000],"tickCount":10,"format":"d","title":"Total lipoprotein particles (μM)","titleFontSize":12}},"stroke":{"condition":{"test":"datum.g=='TD'","value":"#555"},"value":"#8ab8e6"},"fill":{"condition":{"test":"datum.g=='TD'","value":"#888"},"value":"#b5d2f0"}}},
{"data":{"name":"box"},"transform":[{"filter":"datum.p=='i'"},{"calculate":"datum.g=='TD'?0:1","as":"c"},{"calculate":"datum.c-0.32","as":"l"},{"calculate":"datum.c+0.32","as":"r"},{"calculate":"datum.c-0.2","as":"cl"},{"calculate":"datum.c+0.2","as":"cr"}],"encoding":{"color":{"condition":{"test":"datum.g=='TD'","value":"#111"},"value":"#6fa3dc"}},"layer":[
{"mark":{"type":"rule","strokeWidth":2.5},"encoding":{"x":{"field":"c","type":"quantitative"},"y":{"field":"lo","type":"quantitative"},"y2":{"field":"q1"}}},
{"mark":{"type":"rule","strokeWidth":2.5},"encoding":{"x":{"field":"c","type":"quantitative"},"y":{"field":"q3","type":"quantitative"},"y2":{"field":"hi"}}},
{"mark":{"type":"rule","strokeWidth":2.5},"encoding":{"x":{"field":"cl","type":"quantitative"},"x2":{"field":"cr"},"y":{"field":"lo","type":"quantitative"}}},
{"mark":{"type":"rule","strokeWidth":2.5},"encoding":{"x":{"field":"cl","type":"quantitative"},"x2":{"field":"cr"},"y":{"field":"hi","type":"quantitative"}}},
{"mark":{"type":"rect","filled":false,"strokeWidth":2.5},"encoding":{"x":{"field":"l","type":"quantitative"},"x2":{"field":"r"},"y":{"field":"q1","type":"quantitative"},"y2":{"field":"q3"}}},
{"mark":{"type":"rule","strokeWidth":3},"encoding":{"x":{"field":"l","type":"quantitative"},"x2":{"field":"r"},"y":{"field":"md","type":"quantitative"}}},
{"mark":{"type":"text","fontSize":14,"dy":-7,"baseline":"alphabetic"},"encoding":{"x":{"field":"c","type":"quantitative"},"y":{"field":"hi","type":"quantitative"},"text":{"field":"s"},"color":{"value":"#000"}}},
{"transform":[{"filter":"datum.g=='TD'"}],"mark":{"type":"text","text":"i","align":"left","baseline":"alphabetic","fontSize":16,"dx":-75,"dy":-9},"encoding":{"x":{"datum":-0.5,"type":"quantitative"},"y":{"datum":25000,"type":"quantitative"},"color":{"value":"#000"}}}
]}]},
{"width":100,"height":167,"layer":[
{"data":{"name":"pts"},"transform":[{"filter":"datum.p=='j'"},{"window":[{"op":"row_number","as":"i"}],"groupby":["g"]},{"calculate":"(datum.g=='TD'?0:1)+((datum.i*0.618034)%1-0.5)*0.7","as":"x"}],"mark":{"type":"point","shape":"circle","size":22,"strokeWidth":1,"fillOpacity":0.3,"strokeOpacity":0.7},"encoding":{"x":{"field":"x","type":"quantitative","scale":{"domain":[-0.5,1.5],"nice":false,"zero":false},"axis":{"values":[0,1],"tickCount":10,"labelExpr":"datum.value==0?'TD':'ASD'","title":null}},"y":{"field":"v","type":"quantitative","scale":{"domain":[0,250],"nice":false},"axis":{"values":[0,50,100,150,200,250],"tickCount":10,"format":"d","title":"VLDL particles (nM)"}},"stroke":{"condition":{"test":"datum.g=='TD'","value":"#555"},"value":"#8ab8e6"},"fill":{"condition":{"test":"datum.g=='TD'","value":"#888"},"value":"#b5d2f0"}}},
{"data":{"name":"box"},"transform":[{"filter":"datum.p=='j'"},{"calculate":"datum.g=='TD'?0:1","as":"c"},{"calculate":"datum.c-0.32","as":"l"},{"calculate":"datum.c+0.32","as":"r"},{"calculate":"datum.c-0.2","as":"cl"},{"calculate":"datum.c+0.2","as":"cr"}],"encoding":{"color":{"condition":{"test":"datum.g=='TD'","value":"#111"},"value":"#6fa3dc"}},"layer":[
{"mark":{"type":"rule","strokeWidth":2.5},"encoding":{"x":{"field":"c","type":"quantitative"},"y":{"field":"lo","type":"quantitative"},"y2":{"field":"q1"}}},
{"mark":{"type":"rule","strokeWidth":2.5},"encoding":{"x":{"field":"c","type":"quantitative"},"y":{"field":"q3","type":"quantitative"},"y2":{"field":"hi"}}},
{"mark":{"type":"rule","strokeWidth":2.5},"encoding":{"x":{"field":"cl","type":"quantitative"},"x2":{"field":"cr"},"y":{"field":"lo","type":"quantitative"}}},
{"mark":{"type":"rule","strokeWidth":2.5},"encoding":{"x":{"field":"cl","type":"quantitative"},"x2":{"field":"cr"},"y":{"field":"hi","type":"quantitative"}}},
{"mark":{"type":"rect","filled":false,"strokeWidth":2.5},"encoding":{"x":{"field":"l","type":"quantitative"},"x2":{"field":"r"},"y":{"field":"q1","type":"quantitative"},"y2":{"field":"q3"}}},
{"mark":{"type":"rule","strokeWidth":3},"encoding":{"x":{"field":"l","type":"quantitative"},"x2":{"field":"r"},"y":{"field":"md","type":"quantitative"}}},
{"mark":{"type":"text","fontSize":14,"dy":-7,"baseline":"alphabetic"},"encoding":{"x":{"field":"c","type":"quantitative"},"y":{"field":"hi","type":"quantitative"},"text":{"field":"s"},"color":{"value":"#000"}}},
{"transform":[{"filter":"datum.g=='TD'"}],"mark":{"type":"text","text":"j","align":"left","baseline":"alphabetic","fontSize":16,"dx":-53,"dy":-9},"encoding":{"x":{"datum":-0.5,"type":"quantitative"},"y":{"datum":250,"type":"quantitative"},"color":{"value":"#000"}}}
]}]},
{"width":100,"height":167,"layer":[
{"data":{"name":"pts"},"transform":[{"filter":"datum.p=='k'"},{"window":[{"op":"row_number","as":"i"}],"groupby":["g"]},{"calculate":"(datum.g=='TD'?0:1)+((datum.i*0.618034)%1-0.5)*0.7","as":"x"}],"mark":{"type":"point","shape":"circle","size":22,"strokeWidth":1,"fillOpacity":0.3,"strokeOpacity":0.7},"encoding":{"x":{"field":"x","type":"quantitative","scale":{"domain":[-0.5,1.5],"nice":false,"zero":false},"axis":{"values":[0,1],"tickCount":10,"labelExpr":"datum.value==0?'TD':'ASD'","title":null}},"y":{"field":"v","type":"quantitative","scale":{"domain":[0,2500],"nice":false},"axis":{"values":[0,500,1000,1500,2000,2500],"tickCount":10,"format":"d","title":"LDL particles (nM)"}},"stroke":{"condition":{"test":"datum.g=='TD'","value":"#555"},"value":"#8ab8e6"},"fill":{"condition":{"test":"datum.g=='TD'","value":"#888"},"value":"#b5d2f0"}}},
{"data":{"name":"box"},"transform":[{"filter":"datum.p=='k'"},{"calculate":"datum.g=='TD'?0:1","as":"c"},{"calculate":"datum.c-0.32","as":"l"},{"calculate":"datum.c+0.32","as":"r"},{"calculate":"datum.c-0.2","as":"cl"},{"calculate":"datum.c+0.2","as":"cr"}],"encoding":{"color":{"condition":{"test":"datum.g=='TD'","value":"#111"},"value":"#6fa3dc"}},"layer":[
{"mark":{"type":"rule","strokeWidth":2.5},"encoding":{"x":{"field":"c","type":"quantitative"},"y":{"field":"lo","type":"quantitative"},"y2":{"field":"q1"}}},
{"mark":{"type":"rule","strokeWidth":2.5},"encoding":{"x":{"field":"c","type":"quantitative"},"y":{"field":"q3","type":"quantitative"},"y2":{"field":"hi"}}},
{"mark":{"type":"rule","strokeWidth":2.5},"encoding":{"x":{"field":"cl","type":"quantitative"},"x2":{"field":"cr"},"y":{"field":"lo","type":"quantitative"}}},
{"mark":{"type":"rule","strokeWidth":2.5},"encoding":{"x":{"field":"cl","type":"quantitative"},"x2":{"field":"cr"},"y":{"field":"hi","type":"quantitative"}}},
{"mark":{"type":"rect","filled":false,"strokeWidth":2.5},"encoding":{"x":{"field":"l","type":"quantitative"},"x2":{"field":"r"},"y":{"field":"q1","type":"quantitative"},"y2":{"field":"q3"}}},
{"mark":{"type":"rule","strokeWidth":3},"encoding":{"x":{"field":"l","type":"quantitative"},"x2":{"field":"r"},"y":{"field":"md","type":"quantitative"}}},
{"mark":{"type":"text","fontSize":14,"dy":-7,"baseline":"alphabetic"},"encoding":{"x":{"field":"c","type":"quantitative"},"y":{"field":"hi","type":"quantitative"},"text":{"field":"s"},"color":{"value":"#000"}}},
{"transform":[{"filter":"datum.g=='TD'"}],"mark":{"type":"text","text":"k","align":"left","baseline":"alphabetic","fontSize":16,"dx":-58,"dy":-9},"encoding":{"x":{"datum":-0.5,"type":"quantitative"},"y":{"datum":2500,"type":"quantitative"},"color":{"value":"#000"}}}
]}]},
{"width":100,"height":167,"layer":[
{"data":{"name":"pts"},"transform":[{"filter":"datum.p=='l'"},{"window":[{"op":"row_number","as":"i"}],"groupby":["g"]},{"calculate":"(datum.g=='TD'?0:1)+((datum.i*0.618034)%1-0.5)*0.7","as":"x"}],"mark":{"type":"point","shape":"circle","size":22,"strokeWidth":1,"fillOpacity":0.3,"strokeOpacity":0.7},"encoding":{"x":{"field":"x","type":"quantitative","scale":{"domain":[-0.5,1.5],"nice":false,"zero":false},"axis":{"values":[0,1],"tickCount":10,"labelExpr":"datum.value==0?'TD':'ASD'","title":null}},"y":{"field":"v","type":"quantitative","scale":{"domain":[0,25000],"nice":false},"axis":{"values":[0,5000,10000,15000,20000,25000],"tickCount":10,"format":"d","title":"HDL particles (nM)"}},"stroke":{"condition":{"test":"datum.g=='TD'","value":"#555"},"value":"#8ab8e6"},"fill":{"condition":{"test":"datum.g=='TD'","value":"#888"},"value":"#b5d2f0"}}},
{"data":{"name":"box"},"transform":[{"filter":"datum.p=='l'"},{"calculate":"datum.g=='TD'?0:1","as":"c"},{"calculate":"datum.c-0.32","as":"l"},{"calculate":"datum.c+0.32","as":"r"},{"calculate":"datum.c-0.2","as":"cl"},{"calculate":"datum.c+0.2","as":"cr"}],"encoding":{"color":{"condition":{"test":"datum.g=='TD'","value":"#111"},"value":"#6fa3dc"}},"layer":[
{"mark":{"type":"rule","strokeWidth":2.5},"encoding":{"x":{"field":"c","type":"quantitative"},"y":{"field":"lo","type":"quantitative"},"y2":{"field":"q1"}}},
{"mark":{"type":"rule","strokeWidth":2.5},"encoding":{"x":{"field":"c","type":"quantitative"},"y":{"field":"q3","type":"quantitative"},"y2":{"field":"hi"}}},
{"mark":{"type":"rule","strokeWidth":2.5},"encoding":{"x":{"field":"cl","type":"quantitative"},"x2":{"field":"cr"},"y":{"field":"lo","type":"quantitative"}}},
{"mark":{"type":"rule","strokeWidth":2.5},"encoding":{"x":{"field":"cl","type":"quantitative"},"x2":{"field":"cr"},"y":{"field":"hi","type":"quantitative"}}},
{"mark":{"type":"rect","filled":false,"strokeWidth":2.5},"encoding":{"x":{"field":"l","type":"quantitative"},"x2":{"field":"r"},"y":{"field":"q1","type":"quantitative"},"y2":{"field":"q3"}}},
{"mark":{"type":"rule","strokeWidth":3},"encoding":{"x":{"field":"l","type":"quantitative"},"x2":{"field":"r"},"y":{"field":"md","type":"quantitative"}}},
{"mark":{"type":"text","fontSize":14,"dy":-7,"baseline":"alphabetic"},"encoding":{"x":{"field":"c","type":"quantitative"},"y":{"field":"hi","type":"quantitative"},"text":{"field":"s"},"color":{"value":"#000"}}},
{"transform":[{"filter":"datum.g=='TD'"}],"mark":{"type":"text","text":"l","align":"left","baseline":"alphabetic","fontSize":16,"dx":-56,"dy":-9},"encoding":{"x":{"datum":-0.5,"type":"quantitative"},"y":{"datum":25000,"type":"quantitative"},"color":{"value":"#000"}}}
]}]}
]}
]},
{"bounds":"flush","spacing":78,"hconcat":[
{"width":206,"height":176,"layer":[
{"data":{"name":"sm"},"mark":{"type":"point","shape":"circle","size":28,"strokeWidth":1.6,"color":"#8fbbe8","opacity":0.8},"encoding":{"x":{"field":"x","type":"quantitative","scale":{"domain":[0,200],"nice":false},"axis":{"values":[0,50,100,150,200],"tickCount":10,"format":"d","title":"VLDL-TG (mg/dl)"}},"y":{"field":"y","type":"quantitative","scale":{"domain":[0,40],"nice":false},"axis":{"values":[0,10,20,30,40],"tickCount":10,"format":"d","title":"LDL-TG (mg/dl)"}}}},
{"data":{"name":"lm"},"mark":{"type":"line","color":"#6b93d6","strokeWidth":3.5},"encoding":{"x":{"field":"x","type":"quantitative"},"y":{"field":"y","type":"quantitative"}}},
{"data":{"name":"ann"},"transform":[{"filter":"datum.p=='m'"}],"mark":{"type":"text","align":"left","baseline":"top","fontSize":13,"lineHeight":14,"dx":10,"dy":-6,"color":"#111"},"encoding":{"x":{"datum":0,"type":"quantitative"},"y":{"datum":40,"type":"quantitative"},"text":{"field":"t"}}},
{"data":{"name":"ann"},"transform":[{"filter":"datum.p=='m'"}],"mark":{"type":"text","text":"m","align":"left","baseline":"alphabetic","fontSize":16,"dx":-76,"dy":-9,"color":"#000"},"encoding":{"x":{"datum":0,"type":"quantitative"},"y":{"datum":40,"type":"quantitative"}}}
]},
{"width":206,"height":176,"layer":[
{"data":{"name":"sn"},"mark":{"type":"point","shape":"circle","size":28,"strokeWidth":1.6,"color":"#8fbbe8","opacity":0.8},"encoding":{"x":{"field":"x","type":"quantitative","scale":{"domain":[0,200],"nice":false},"axis":{"values":[0,50,100,150,200],"tickCount":10,"format":"d","title":"VLDL particles (nM)"}},"y":{"field":"y","type":"quantitative","scale":{"domain":[0,2500],"nice":false},"axis":{"values":[0,500,1000,1500,2000,2500],"tickCount":10,"format":"d","title":"LDL particles (nM)"}}}},
{"data":{"name":"ln"},"mark":{"type":"line","color":"#6b93d6","strokeWidth":3.5},"encoding":{"x":{"field":"x","type":"quantitative"},"y":{"field":"y","type":"quantitative"}}},
{"data":{"name":"ann"},"transform":[{"filter":"datum.p=='n'"}],"mark":{"type":"text","align":"left","baseline":"top","fontSize":13,"lineHeight":14,"dx":10,"dy":-6,"color":"#111"},"encoding":{"x":{"datum":0,"type":"quantitative"},"y":{"datum":2500,"type":"quantitative"},"text":{"field":"t"}}},
{"data":{"name":"ann"},"transform":[{"filter":"datum.p=='n'"}],"mark":{"type":"text","text":"n","align":"left","baseline":"alphabetic","fontSize":16,"dx":-66,"dy":-9,"color":"#000"},"encoding":{"x":{"datum":0,"type":"quantitative"},"y":{"datum":2500,"type":"quantitative"}}}
]}
]}
]
}
